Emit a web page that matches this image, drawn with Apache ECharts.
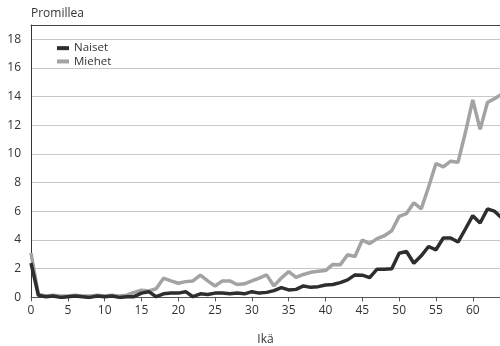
<!DOCTYPE html>
<html>
<head>
<meta charset="utf-8">
<script src="https://cdn.jsdelivr.net/npm/echarts@6/dist/echarts.min.js"></script>
<style>html,body{margin:0;padding:0;background:#fff}#c{width:500px;height:346px}</style>
</head>
<body>
<div id="c"></div>
<script>
var ages = [0,1,2,3,4,5,6,7,8,9,10,11,12,13,14,15,16,17,18,19,20,21,22,23,24,25,26,27,28,29,30,31,32,33,34,35,36,37,38,39,40,41,42,43,44,45,46,47,48,49,50,51,52,53,54,55,56,57,58,59,60,61,62,63,64];
var naiset = [2.4,0.15,0.05,0.1,0.0,0.05,0.1,0.05,0.0,0.1,0.05,0.1,0.0,0.05,0.05,0.3,0.4,0.05,0.25,0.3,0.3,0.4,0.05,0.25,0.2,0.3,0.3,0.25,0.3,0.25,0.4,0.3,0.35,0.47,0.68,0.52,0.56,0.8,0.7,0.75,0.87,0.9,1.03,1.22,1.57,1.55,1.38,1.97,1.97,2.0,3.08,3.2,2.38,2.9,3.55,3.32,4.14,4.14,3.86,4.77,5.7,5.19,6.17,6.0,5.5];
var miehet = [3.1,0.2,0.1,0.15,0.1,0.1,0.15,0.1,0.1,0.15,0.1,0.15,0.1,0.15,0.35,0.5,0.45,0.6,1.34,1.15,0.99,1.1,1.15,1.55,1.15,0.8,1.15,1.15,0.9,0.95,1.15,1.35,1.57,0.8,1.35,1.8,1.4,1.6,1.75,1.82,1.87,2.3,2.27,2.97,2.85,4.0,3.75,4.1,4.3,4.65,5.65,5.85,6.6,6.17,7.7,9.34,9.1,9.5,9.43,11.5,13.77,11.72,13.6,13.87,14.2];
var seriesNames = ['Naiset','Miehet'];
var xName = 'Ikä';
var yName = 'Promillea';

function pairs(v){ return ages.map(function(a,i){ return [a, v[i]]; }); }

var font = '"Open Sans", sans-serif';
var chart = echarts.init(document.getElementById('c'), null, {renderer:'canvas'});
chart.setOption({
  animation:false,
  textStyle:{fontFamily:font},
  grid:{left:31,right:0,top:25,bottom:48.6,containLabel:false,outerBoundsMode:'none'},
  legend:{
    data:seriesNames, orient:'vertical', left:52, top:37,
    icon:'rect', itemWidth:12, itemHeight:4, itemGap:1,
    textStyle:{fontFamily:font,fontSize:11.5,color:'#333',lineHeight:12.3}
  },
  xAxis:[{
    type:'value', min:0, max:63.7, interval:5,
    name:xName, nameLocation:'middle', nameGap:36,
    nameTextStyle:{fontFamily:font,fontSize:12,color:'#333'},
    axisLine:{show:true,lineStyle:{color:'#555',width:1}},
    axisTick:{show:true,length:4,lineStyle:{color:'#555'}},
    axisLabel:{fontFamily:font,fontSize:12,color:'#333',margin:7,showMaxLabel:false},
    splitLine:{show:false}
  },{
    type:'value', min:0, max:63.7, position:'top',
    axisLine:{show:true,onZero:false,lineStyle:{color:'#444',width:1}},
    axisTick:{show:false}, axisLabel:{show:false}, splitLine:{show:false}
  }],
  yAxis:{
    type:'value', min:0, max:19, interval:2,
    name:yName, nameLocation:'end', nameGap:5,
    nameTextStyle:{fontFamily:font,fontSize:12,color:'#333',align:'left'},
    axisLine:{show:true,lineStyle:{color:'#333',width:1}},
    axisTick:{show:false},
    axisLabel:{fontFamily:font,fontSize:12,color:'#333',margin:10,showMaxLabel:false},
    splitLine:{show:true,lineStyle:{color:'#c8c8c8',width:1}}
  },
  series:[
    {name:'Miehet',type:'line',data:pairs(miehet),showSymbol:false,symbol:'none',
     lineStyle:{color:'#a3a3a3',width:3.5},itemStyle:{color:'#a3a3a3'},z:2},
    {name:'Naiset',type:'line',data:pairs(naiset),showSymbol:false,symbol:'none',
     lineStyle:{color:'#2e2e2e',width:3.5},itemStyle:{color:'#2e2e2e'},z:3}
  ]
});
</script>
</body>
</html>
